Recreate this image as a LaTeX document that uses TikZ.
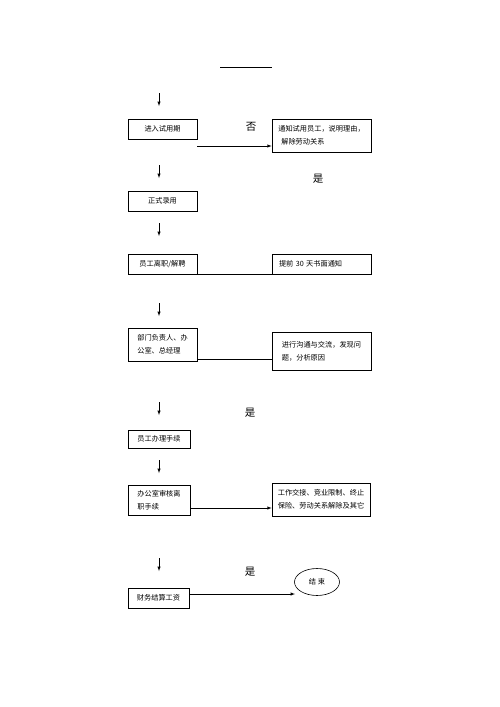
\documentclass[tikz,border=0pt]{standalone}
\usepackage{fontspec}
\newfontfamily\cjk{Noto Sans CJK SC}
\usetikzlibrary{arrows,positioning,shapes.geometric}

\begin{document}
\begin{tikzpicture}[>=latex, x=1pt, y=-1pt, line width=0.5pt,
	every node/.style={font=\cjk\fontsize{7.2}{13}\selectfont},
	box/.style={draw, line width=0.6pt, inner sep=0pt, align=left},
	yes/.style={font=\cjk\fontsize{10.5}{12}\selectfont}]
	\useasboundingbox (0,0) rectangle (500,707);
	% title line
	\coordinate (t0) at (220,67);
	\coordinate (t1) at (272,67);
	\draw[line width=0.6pt] (t0) -- (t1);
	% left column
	\node[box, align=center, minimum width=69, minimum height=20] (trial) at (162.5,129)   {进入试用期};
	\node[box, align=center, minimum width=69, minimum height=20] (hire)  at (162.5,201)   {正式录用};
	\node[box, minimum width=69, minimum height=20] (leave) at (162.5,264)   {员工离职/解聘};
	\node[box, minimum width=69, minimum height=33] (dept)  at (162.5,344.5) {部门负责人、办\\公室、总经理};
	\node[box, minimum width=62, minimum height=18] (proc)  at (159,439)     {员工办理手续};
	\node[box, minimum width=62, minimum height=30] (audit) at (159,500)     {办公室审核离\\职手续};
	\node[box, minimum width=61, minimum height=20] (pay)   at (158.5,598)   {财务结算工资};
	% right column
	\node[box, minimum width=99, minimum height=33] (notify)   at (321.5,135.5) {通知试用员工，说明理由，\\\hspace{3pt}解除劳动关系};
	\node[box, inner xsep=7pt, text width=85, minimum height=20] (notice) at (321.5,264) {提前 30 天书面通知};
	\node[box, minimum width=99, minimum height=38] (talk)     at (321.5,351)   {进行沟通与交流，发现问\\题，分析原因};
	\node[box, minimum width=98, minimum height=33] (handover) at (321,499.5)   {工作交接、竞业限制、终止\\保险、劳动关系解除及其它};
	\node[draw, ellipse, line width=0.6pt, minimum width=45, minimum height=27, inner sep=0pt] (end) at (317,582) {结 束};
	% labels
	\node[yes] (no1)  at (251,127) {否};
	\node[yes] (yes1) at (318,179) {是};
	\node[yes] (yes2) at (250,413) {是};
	\node[yes] (yes3) at (250,572) {是};
	% short down arrows
	\foreach \y [count=\i] in {93,165,223,303,402,460,558}
		{\coordinate (d\i) at (159,\y);
		 \draw[->] (d\i) -- ++(0,13);}
	% connectors
	\coordinate (c1) at (197,146);
	\draw[->] (c1) -- (c1 -| notify.west);
	\draw (leave.south east) -- (notice.south west);
	\coordinate (c2) at (197,359);
	\draw (c2) -- (c2 -| talk.west);
	\coordinate (c3) at (190,508);
	\draw[->] (c3) -- (c3 -| handover.west);
	\coordinate (c4) at (189,594);
	\coordinate (c5) at (295,594);
	\draw[->] (c4) -- (c5);
\end{tikzpicture}
\end{document}
